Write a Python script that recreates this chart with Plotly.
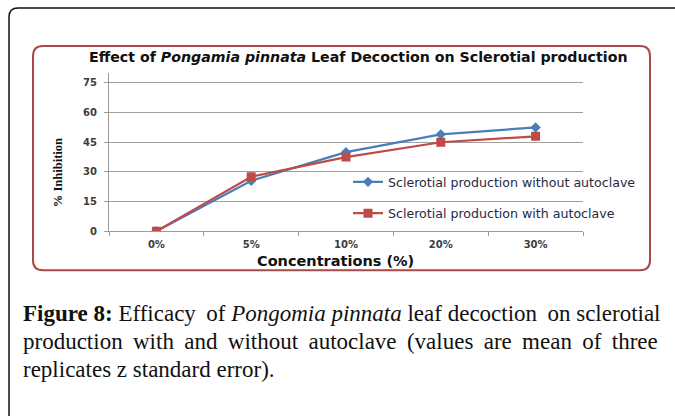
import plotly.graph_objects as go

# ---- data ----
concentrations = ["0%", "5%", "10%", "20%", "30%"]
without_autoclave = [0, 25.5, 40, 49, 52.5]
with_autoclave = [0, 27.5, 37.5, 45, 48]
y_ticks = [0, 15, 30, 45, 60, 75]

W, H = 675, 416
SY = 1.013  # small vertical correction
def px(x):
    return x / W
def py(y):
    return 1 - (y * SY) / H

BLUE = "#4A7EBB"
RED = "#BE4B48"
FRAME = "#A84A48"

fig = go.Figure()
fig.add_trace(go.Scatter(
    x=concentrations, y=without_autoclave, mode="lines+markers",
    name="Sclerotial production without autoclave",
    line=dict(color=BLUE, width=2.2),
    marker=dict(symbol="diamond", size=8, color=BLUE),
    legendgroup="a",
))
fig.add_trace(go.Scatter(
    x=concentrations, y=with_autoclave, mode="lines+markers",
    name="Sclerotial production with autoclave",
    line=dict(color=RED, width=2.2),
    marker=dict(symbol="square", size=9, color=RED),
    legendgroup="b",
))

fig.update_layout(
    width=W, height=H,
    margin=dict(l=0, r=0, t=0, b=0),
    paper_bgcolor="white", plot_bgcolor="white",
    showlegend=True,
    legend=dict(
        x=px(348), y=py(167), xanchor="left", yanchor="top",
        bgcolor="rgba(0,0,0,0)", borderwidth=0,
        font=dict(family="DejaVu Sans", size=12.6, color="#1f2a44"),
        tracegroupgap=12, itemwidth=30,
    ),
    xaxis=dict(
        type="category", domain=[px(109), px(583)], range=[-0.5, 4.5],
        showgrid=False, showline=True, linecolor="#9a9a9a", linewidth=1,
        ticks="outside", tickson="boundaries", ticklen=4, tickcolor="#9a9a9a",
        tickfont=dict(family="DejaVu Sans", size=10, color="#3c3c3c", weight="bold"),
        ticklabelstandoff=4, anchor="y",
    ),
    yaxis=dict(
        domain=[py(231), py(73)], range=[0, 80],
        tickvals=y_ticks, showgrid=True, gridcolor="#a0a0a0", gridwidth=1,
        showline=True, linecolor="#9a9a9a", linewidth=1,
        ticks="outside", ticklen=4, tickcolor="#9a9a9a",
        tickfont=dict(family="DejaVu Sans", size=10, color="#3c3c3c", weight="bold"),
        ticklabelstandoff=5, zeroline=False, anchor="x",
    ),
)

shapes = []
# outer black rounded frame (open to the right and bottom)
shapes.append(dict(
    type="path", xref="paper", yref="paper",
    path=f"M {px(9)},{py(430)} L {px(9)},{py(17)} Q {px(9)},{py(8)} {px(18)},{py(8)} L {px(680)},{py(8)}",
    line=dict(color="#111111", width=1.5),
))
# inner chart frame (rounded)
x0, x1, y0, y1, r = 33, 650, 46, 270, 10
shapes.append(dict(
    type="path", xref="paper", yref="paper",
    path=(f"M {px(x0+r)},{py(y0)} L {px(x1-r)},{py(y0)} Q {px(x1)},{py(y0)} {px(x1)},{py(y0+r)} "
          f"L {px(x1)},{py(y1-r)} Q {px(x1)},{py(y1)} {px(x1-r)},{py(y1)} "
          f"L {px(x0+r)},{py(y1)} Q {px(x0)},{py(y1)} {px(x0)},{py(y1-r)} "
          f"L {px(x0)},{py(y0+r)} Q {px(x0)},{py(y0)} {px(x0+r)},{py(y0)} Z"),
    line=dict(color=FRAME, width=2),
))
fig.update_layout(shapes=shapes)

TH = "\u2009"  # thin space used to justify caption lines
ann = []
ann.append(dict(
    text="Effect of <i>Pongamia pinnata</i> Leaf Decoction on Sclerotial production",
    x=px(359), y=py(57), xref="paper", yref="paper", showarrow=False,
    xanchor="center", yanchor="middle",
    font=dict(family="DejaVu Sans", size=14.2, color="#111111", weight="bold"),
))
ann.append(dict(
    text="Concentrations (%)", x=px(335), y=py(261), xref="paper", yref="paper",
    showarrow=False, xanchor="center", yanchor="middle",
    font=dict(family="DejaVu Sans", size=14.5, color="#111111", weight="bold"),
))
ann.append(dict(
    text="% Inhibition", x=px(58), y=py(172), xref="paper", yref="paper",
    showarrow=False, xanchor="center", yanchor="middle", textangle=-90,
    font=dict(family="Liberation Sans Narrow", size=12.5, color="#111111", weight="bold"),
))
SERIF = "Liberation Serif"
cap_font = dict(family=SERIF, size=23, color="#111111")
line1 = ("<b>Figure 8:</b> Efficacy" + TH + " of <i>Pongomia pinnata</i>"
         + " leaf decoction" + TH + " on sclerotial")
w2 = ["production", "with", "and", "without", "autoclave", "(values", "are", "mean", "of", "three"]
line2 = (" " + TH).join(w2)
ann.append(dict(
    text=line1, x=px(21), y=py(313), xref="paper", yref="paper", showarrow=False,
    xanchor="left", yanchor="middle", font=cap_font,
))
ann.append(dict(
    text=line2, x=px(21), y=py(341), xref="paper", yref="paper", showarrow=False,
    xanchor="left", yanchor="middle", font=cap_font,
))
ann.append(dict(
    text="replicates z standard error).",
    x=px(21), y=py(369), xref="paper", yref="paper", showarrow=False,
    xanchor="left", yanchor="middle", font=cap_font,
))
fig.update_layout(annotations=ann)

fig.write_html(
    "out.html",
    config={"displayModeBar": False},
    post_script="document.body.style.margin='0';document.body.style.overflow='hidden';",
)
